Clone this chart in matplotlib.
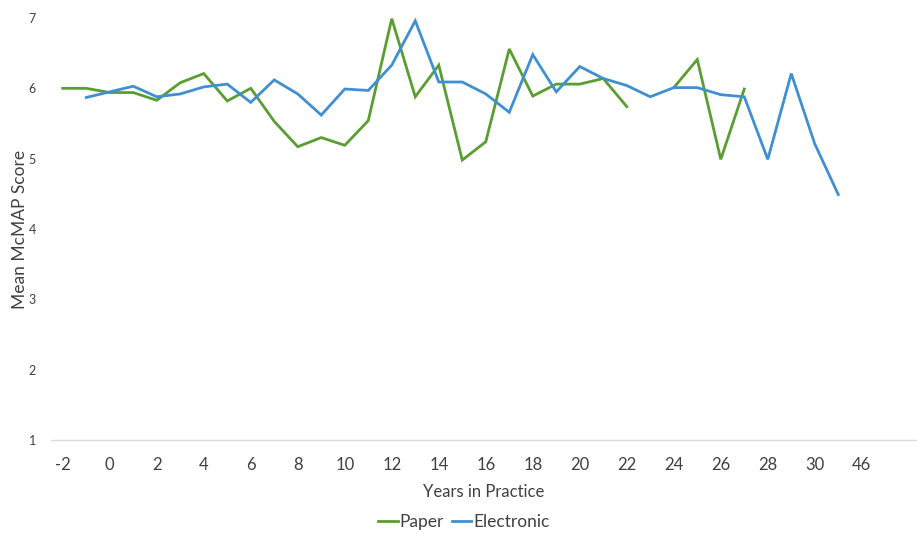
import numpy as np
import matplotlib
matplotlib.use("Agg")
import matplotlib.pyplot as plt

plt.rcParams['font.family'] = ['Lato', 'DejaVu Sans']

years = [str(v) for v in range(-2, 32)] + ["46"]
paper = [6.00, 6.00, 5.94, 5.94, 5.83, 6.08, 6.21, 5.82, 6.00, 5.53,
         5.17, 5.30, 5.19, 5.54, 6.99, 5.88, 6.33, 4.98, 5.24, 6.56,
         5.89, 6.06, 6.06, 6.14, 5.74, np.nan, 6.01, 6.41, 4.99, 5.99,
         np.nan, np.nan, np.nan, np.nan, np.nan]
electronic = [np.nan, 5.87, 5.95, 6.03, 5.88, 5.92, 6.02, 6.06, 5.80, 6.12,
              5.92, 5.62, 5.99, 5.97, 6.33, 6.96, 6.09, 6.09, 5.92, 5.66,
              6.48, 5.95, 6.31, 6.14, 6.04, 5.88, 6.01, 6.01, 5.91, 5.88,
              4.99, 6.21, 5.21, 4.49, np.nan]

green = '#5a9e32'
blue = '#3f8fd2'

fig = plt.figure(figsize=(9.17, 5.34), dpi=100)
ax = fig.add_axes([51/917, 1-440/534, (917-51)/917, (440-18)/534])

x = np.arange(len(years))
ax.plot(x, paper, color=green, lw=2.0, label='Paper', solid_joinstyle='miter')
ax.plot(x, electronic, color=blue, lw=2.0, label='Electronic', solid_joinstyle='miter')

ax.set_xlim(-0.5, 36.35)
ax.set_ylim(1, 7)
ax.set_yticks(range(1, 8))
ax.set_xticks(x[::2])
ax.set_xticklabels(years[::2])

for s in ['top', 'right', 'left']:
    ax.spines[s].set_visible(False)
ax.spines['bottom'].set_color('#d9d9d9')
ax.spines['bottom'].set_linewidth(1.0)
ax.tick_params(axis='both', length=0)
ax.tick_params(axis='x', labelsize=12, labelcolor='#404040', pad=12)
ax.tick_params(axis='y', labelsize=9, labelcolor='#404040', pad=11)

ax.set_xlabel('Years in Practice', fontsize=12, color='#404040', labelpad=8)
ax.set_ylabel('Mean McMAP Score', fontsize=12.5, color='#404040', labelpad=0)

leg = fig.legend(loc='center', bbox_to_anchor=(464/917, 1-522/534), ncol=2,
                 frameon=False, fontsize=12.5, handlelength=1.1,
                 columnspacing=0.5, handletextpad=0.1)
for t in leg.get_texts():
    t.set_color('#404040')

fig.savefig('out.png', dpi=100)
